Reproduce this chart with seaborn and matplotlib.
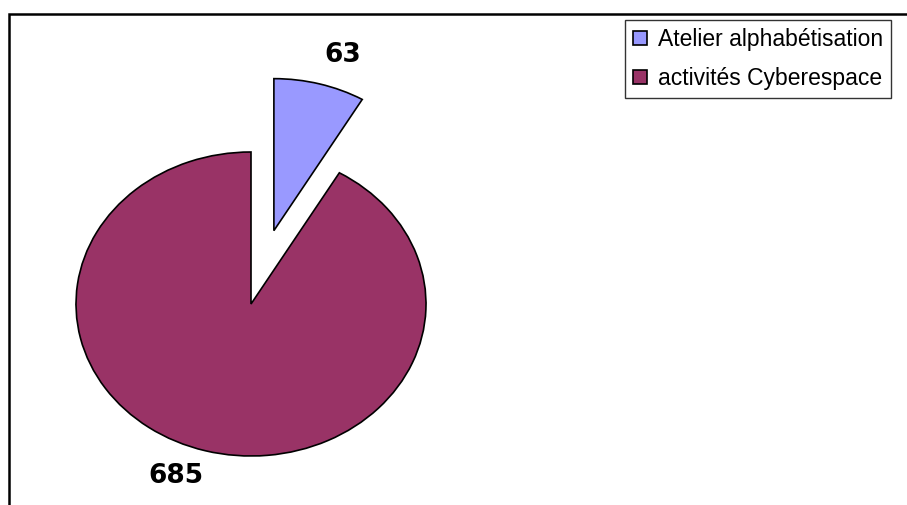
import matplotlib
matplotlib.use("Agg")
import matplotlib.pyplot as plt
import seaborn as sns
from matplotlib.patches import Rectangle

categories = ['Atelier alphabétisation', 'activités Cyberespace']
values = [63, 685]
colors = ['#9999FF', '#993366']
explode = [0.5, 0]

sns.set_style('white')
plt.rcParams['font.family'] = ['Liberation Sans', 'DejaVu Sans']
plt.rcParams['text.color'] = 'black'

fig = plt.figure(figsize=(9.07, 5.05), dpi=100)
ax = fig.add_axes([0, 0, 1, 1])

wedges, _ = ax.pie(values, colors=colors, explode=explode, startangle=90,
                   counterclock=False,
                   wedgeprops=dict(edgecolor='black', linewidth=1.2))

# slightly squashed pie like the original (wider than tall)
ax.set_aspect('auto')
ax.set_xlim(-251 / 175, 656 / 175)
ax.set_ylim(-201 / 152, 304 / 152)
ax.axis('off')

# value labels
ax.text(0.526, 1.638, str(values[0]), ha='center', va='center',
        fontsize=19, fontweight='bold', family='DejaVu Sans', color='black')
ax.text(-0.429, -1.132, str(values[1]), ha='center', va='center',
        fontsize=19, fontweight='bold', family='DejaVu Sans', color='black')

leg = fig.legend(wedges, categories, loc='upper left',
                 bbox_to_anchor=(625 / 907, 1 - 20 / 505),
                 fontsize=16.5, frameon=True, fancybox=False,
                 handlelength=0.6, handleheight=0.6, handletextpad=0.5,
                 labelspacing=0.7, borderpad=0.35, borderaxespad=0,
                 labelcolor='black')
leg.get_frame().set_edgecolor('black')
leg.get_frame().set_linewidth(1.0)

# outer chart frame (top and left edges visible)
fig.patches.append(Rectangle((9 / 907, -0.1), 1.2, 1 - 14 / 505 + 0.1,
                             transform=fig.transFigure, fill=False,
                             edgecolor='black', linewidth=1.8))

fig.savefig('out.png', dpi=100)
